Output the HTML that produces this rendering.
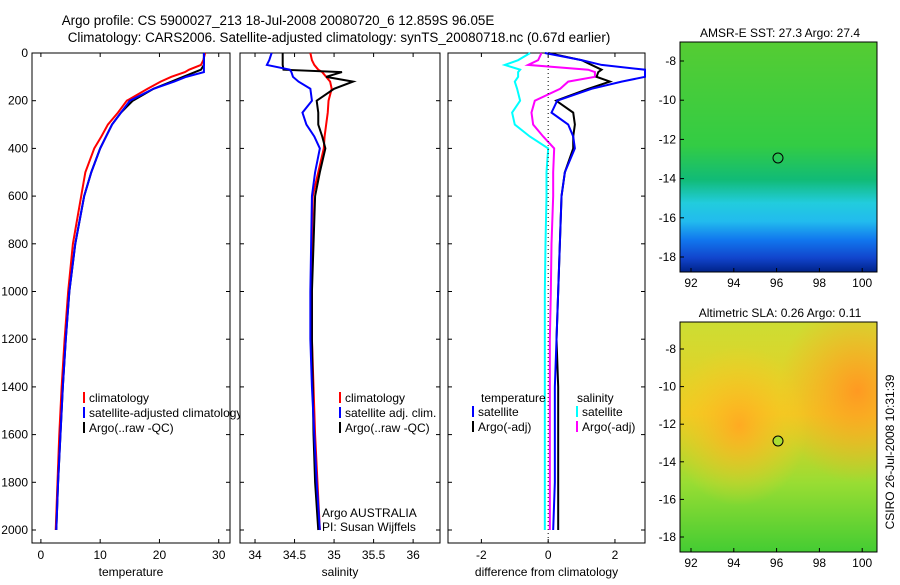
<!DOCTYPE html>
<html><head><meta charset="utf-8"><style>
body{margin:0;background:#fff;width:900px;height:580px;overflow:hidden;font-family:"Liberation Sans",sans-serif}
svg text{font-family:"Liberation Sans",sans-serif;font-size:12px;fill:#000}
</style></head><body>
<svg id="fig" width="900" height="580">
<defs>
<linearGradient id="sstG" x1="0" y1="0" x2="0" y2="1">
<stop offset="0" stop-color="#55cc33"/><stop offset="0.45" stop-color="#33cc44"/><stop offset="0.6" stop-color="#11bb77"/><stop offset="0.7" stop-color="#22ccdd"/><stop offset="0.78" stop-color="#22bbee"/><stop offset="0.86" stop-color="#1177ee"/><stop offset="0.94" stop-color="#1144cc"/><stop offset="1" stop-color="#002288"/></linearGradient>
<radialGradient id="slaA" cx="0.9" cy="0.3" r="0.4"><stop offset="0" stop-color="#ff9922"/><stop offset="1" stop-color="#ffaa22" stop-opacity="0"/></radialGradient>
<radialGradient id="slaB" cx="0.3" cy="0.45" r="0.35"><stop offset="0" stop-color="#ffaa22"/><stop offset="1" stop-color="#ffcc22" stop-opacity="0"/></radialGradient>
<linearGradient id="slaG" x1="0" y1="0" x2="0" y2="1"><stop offset="0" stop-color="#ccdd33"/><stop offset="0.4" stop-color="#eecc22"/><stop offset="0.7" stop-color="#99dd33"/><stop offset="1" stop-color="#44cc33"/></linearGradient>
</defs>
<text x="278" y="25" text-anchor="middle" style="font-size:13.4px">Argo profile: CS 5900027_213 18-Jul-2008 20080720_6 12.859S 96.05E</text>
<text x="339" y="42" text-anchor="middle" style="font-size:13.4px">Climatology: CARS2006. Satellite-adjusted climatology: synTS_20080718.nc (0.67d earlier)</text>
<g id="p1"></g>
<g id="p2"></g>
<g id="p3"></g>
<g>
<text x="780" y="37" text-anchor="middle">AMSR-E SST: 27.3 Argo: 27.4</text>
<rect x="680" y="42" width="197" height="230" fill="url(#sstG)"/>
<rect x="680" y="42" width="197" height="230" fill="none" stroke="#000"/>
<circle cx="778" cy="158" r="5" fill="none" stroke="#000"/>
<g id="m1t"></g></g>
<g>
<text x="780" y="317" text-anchor="middle">Altimetric SLA: 0.26 Argo: 0.11</text>
<rect x="680" y="322" width="197" height="230" fill="url(#slaG)"/>
<rect x="680" y="322" width="197" height="230" fill="url(#slaA)"/>
<rect x="680" y="322" width="197" height="230" fill="url(#slaB)"/>
<rect x="680" y="322" width="197" height="230" fill="none" stroke="#000"/>
<circle cx="778" cy="441" r="5" fill="#aadd33" stroke="#000"/>
<g id="m2t"></g></g>
<text transform="translate(894,452) rotate(-90)" text-anchor="middle">CSIRO 26-Jul-2008 10:31:39</text>
</svg>
<script>
const depth=[0,30,50,70,80,100,120,150,200,250,300,350,400,500,600,800,1000,1200,1400,1600,1800,2000];
const tArgo=[27.5,27.5,27.5,27,26,24,22,19,15.5,13.5,12,11,10,8.5,7.3,5.8,4.8,4.2,3.7,3.3,2.9,2.6];
const tClim=[27.7,27.4,27,25,24.3,22,20.2,18,14.5,13,11.3,10.2,9,7.5,6.8,5.4,4.6,4,3.5,3.1,2.8,2.5];
const tSat=[27.5,27.5,27.5,27.5,27.5,24.5,22.5,19,15,13.5,12,11,10,8.5,7.3,5.8,4.8,4.2,3.7,3.3,2.9,2.6];
const sArgo=[34.35,34.35,34.35,34.36,35.1,34.9,35.24,35.0,34.78,34.8,34.8,34.85,34.89,34.82,34.76,34.74,34.72,34.72,34.73,34.74,34.76,34.8];
const sClim=[34.7,34.72,34.75,34.8,34.85,34.9,34.95,34.97,34.93,34.92,34.9,34.88,34.87,34.8,34.73,34.72,34.72,34.72,34.74,34.76,34.79,34.82];
const sSat=[34.21,34.18,34.15,34.44,34.46,34.48,34.55,34.7,34.72,34.6,34.65,34.75,34.82,34.76,34.72,34.71,34.7,34.7,34.72,34.75,34.78,34.82];
const dTSat=[-0.1,1.0,1.6,2.9,2.9,2.9,2.2,1.3,0.27,0.1,0.6,0.75,0.8,0.5,0.4,0.35,0.3,0.25,0.2,0.2,0.2,0.15];
const dTArgo=[0,1.0,1.3,1.6,1.5,1.45,1.85,1.2,0.24,0.75,0.8,0.75,0.75,0.5,0.4,0.35,0.3,0.25,0.3,0.3,0.3,0.3];
const dSSat=[-0.54,-0.9,-1.3,-0.84,-0.9,-0.9,-1.0,-0.93,-0.84,-1.08,-1.0,-0.55,0,-0.05,-0.05,-0.08,-0.1,-0.1,-0.1,-0.1,-0.1,-0.1];
const dSArgo=[-0.2,-0.3,-0.6,1.2,1.4,1.4,0.6,0.36,-0.4,-0.5,-0.45,-0.15,0.18,0.15,0.15,0.1,0.08,0.05,0.05,0.05,0.05,0.05];
const yTicks=[0,200,400,600,800,1000,1200,1400,1600,1800,2000];
const NS="http://www.w3.org/2000/svg";
function el(p,t,a){const e=document.createElementNS(NS,t);for(const k in a)e.setAttribute(k,a[k]);p.appendChild(e);return e;}
const Y=d=>53+d*0.2385;
function panel(g,x0,x1,xmin,xmax,xt,xlab,series,showY){
  const X=v=>x0+(v-xmin)/(xmax-xmin)*(x1-x0);
  el(g,'rect',{x:x0,y:53,width:x1-x0,height:490,fill:'#fff',stroke:'#000'});
  xt.forEach(v=>{const x=X(v);el(g,'line',{x1:x,x2:x,y1:53,y2:57,stroke:'#000'});el(g,'line',{x1:x,x2:x,y1:543,y2:539,stroke:'#000'});
    const t=el(g,'text',{x:x,y:559,'text-anchor':'middle'});t.textContent=v;
    
    });
  yTicks.forEach(d=>{const y=Y(d);el(g,'line',{x1:x0,x2:x0+4,y1:y,y2:y,stroke:'#000'});el(g,'line',{x1:x1,x2:x1-4,y1:y,y2:y,stroke:'#000'});
    if(showY){const t=el(g,'text',{x:x0-4,y:y+4,'text-anchor':'end'});t.textContent=d;
    
    }});
  const l=el(g,'text',{x:(x0+x1)/2,y:576,'text-anchor':'middle'});l.textContent=xlab;
  
  
  series.forEach(s=>{const p=el(g,'polyline',{points:s.v.map((v,i)=>X(v)+','+Y(depth[i])).join(' '),fill:'none',stroke:s.c,'stroke-width':2});
    
    });
  return X;
}
function legend(g,x,y,items){items.forEach((it,i)=>{el(g,'line',{x1:x,x2:x,y1:y+i*15-10,y2:y+i*15+1,stroke:it[1],'stroke-width':2});
  const t=el(g,'text',{x:x+5,y:y+i*15});t.textContent=it[0];
  
  });}
const p1=document.getElementById('p1'),p2=document.getElementById('p2'),p3=document.getElementById('p3');
panel(p1,32,230,-1.5,31.9,[0,10,20,30],'temperature',[{v:tClim,c:'#f00',n:'temp-climatology'},{v:tArgo,c:'#000',n:'temp-argo'},{v:tSat,c:'#00f',n:'temp-satellite'}],true);
legend(p1,84,402,[['climatology','#f00'],['satellite-adjusted climatology','#00f'],['Argo(..raw -QC)','#000']]);
panel(p2,240,440,33.81,36.34,[34,34.5,35,35.5,36],'salinity',[{v:sClim,c:'#f00',n:'sal-climatology'},{v:sArgo,c:'#000',n:'sal-argo'},{v:sSat,c:'#00f',n:'sal-satellite'}],false);
legend(p2,340,402,[['climatology','#f00'],['satellite adj. clim.','#00f'],['Argo(..raw -QC)','#000']]);
let t=el(p2,'text',{x:322,y:517});t.textContent='Argo AUSTRALIA';
let t2=el(p2,'text',{x:322,y:531});t2.textContent='PI: Susan Wijffels';
const X3=panel(p3,448,645,-3,2.9,[-2,0,2],'difference from climatology',[{v:dSSat,c:'#0ff',n:'diff-sal-satellite'},{v:dSArgo,c:'#f0f',n:'diff-sal-argo'},{v:dTArgo,c:'#000',n:'diff-temp-argo'},{v:dTSat,c:'#00f',n:'diff-temp-satellite'}],false);
el(p3,'line',{x1:X3(0),x2:X3(0),y1:53,y2:543,stroke:'#000','stroke-dasharray':'1,3'});
let th=el(p3,'text',{x:481,y:402});th.textContent='temperature';
let sh=el(p3,'text',{x:577,y:402});sh.textContent='salinity';
legend(p3,473,416,[['satellite','#00f'],['Argo(-adj)','#000']]);
legend(p3,577,416,[['satellite','#0ff'],['Argo(-adj)','#f0f']]);
const lons=[92,94,96,98,100], lats=[-8,-10,-12,-14,-16,-18];
function mapTicks(g,y0,y1,lat8y,lat18y){
  const LX=v=>691+(v-92)*21.4;
  const LY=v=>lat8y+(v+8)/(-10)*(lat18y-lat8y);
  lons.forEach(v=>{const x=LX(v);el(g,'line',{x1:x,x2:x,y1:y1,y2:y1-4,stroke:'#000'});const t=el(g,'text',{x:x,y:y1+15,'text-anchor':'middle'});t.textContent=v;});
  lats.forEach(v=>{const y=LY(v);el(g,'line',{x1:680,x2:684,y1:y,y2:y,stroke:'#000'});const t=el(g,'text',{x:676,y:y+4,'text-anchor':'end'});t.textContent=v;});
}
mapTicks(document.getElementById('m1t'),42,272,61,257);
mapTicks(document.getElementById('m2t'),322,552,349,537);
</script>
</body></html>
